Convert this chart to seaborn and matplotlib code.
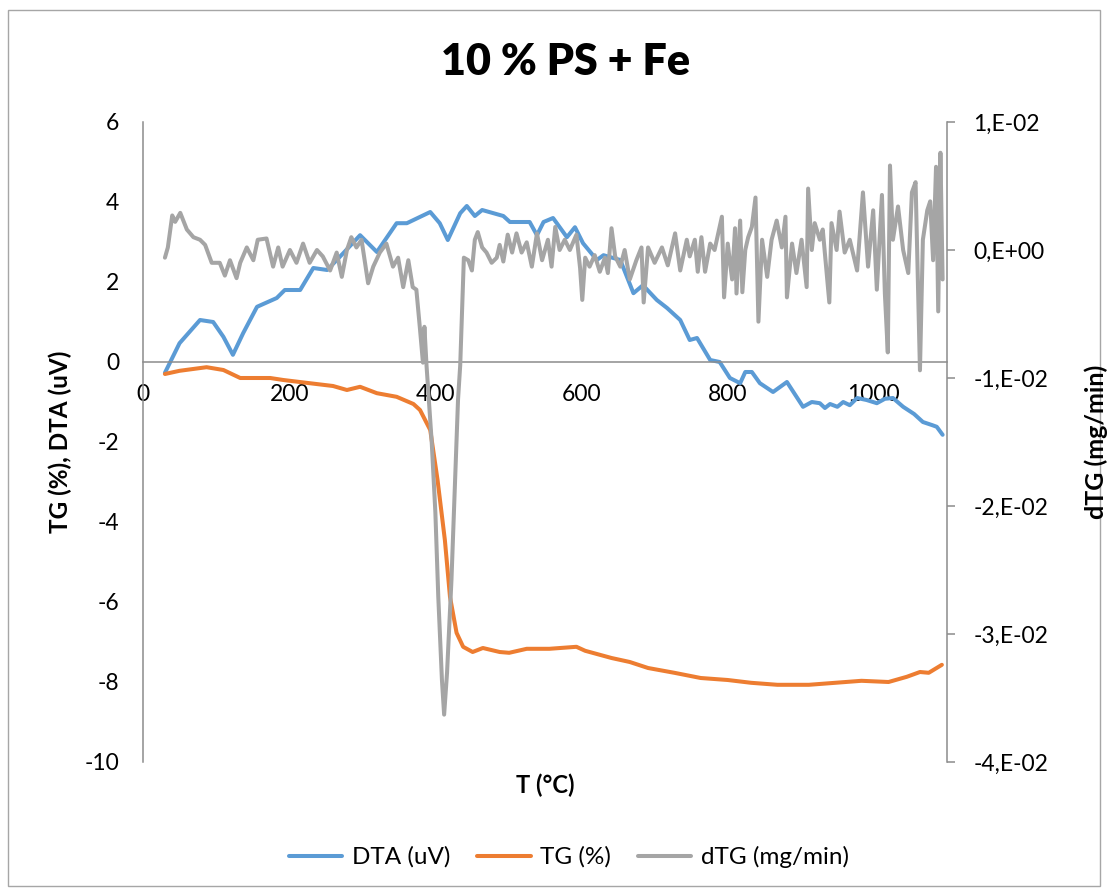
import matplotlib
matplotlib.use("Agg")
import matplotlib.pyplot as plt
import seaborn as sns
import pandas as pd
from matplotlib.lines import Line2D
from matplotlib.patches import Rectangle

# ---------------- data ----------------
title = "10 % PS + Fe"
x_label = "T (°C)"
left_label = "TG (%), DTA (uV)"
right_label = "dTG (mg/min)"
series_names = ["DTA (uV)", "TG (%)", "dTG (mg/min)"]

x_ticks = [0, 200, 400, 600, 800, 1000]
left_ticks = [-10, -8, -6, -4, -2, 0, 2, 4, 6]
right_ticks = [-0.04, -0.03, -0.02, -0.01, 0.0, 0.01]
right_tick_labels = ["-4,E-02", "-3,E-02", "-2,E-02", "-1,E-02", "0,E+00", "1,E-02"]

T_dta = [30, 50, 78, 96, 110, 123, 137, 156, 183, 194, 215, 233, 252, 274, 297, 320,
         347, 361, 393, 406, 417, 434, 443, 454, 464, 493, 502, 529, 539, 548, 561,
         580, 591, 602, 621, 630, 653, 671, 684, 703, 717, 735, 748, 758, 776, 789,
         803, 817, 824, 833, 844, 862, 881, 903, 915, 926, 933, 940, 950, 958, 967,
         977, 990, 1004, 1015, 1026, 1040, 1055, 1067, 1080, 1086, 1094]
DTA = [-0.27, 0.47, 1.05, 1.0, 0.63, 0.18, 0.72, 1.38, 1.6, 1.8, 1.8, 2.35, 2.3, 2.72,
       3.17, 2.75, 3.47, 3.47, 3.75, 3.47, 3.05, 3.72, 3.9, 3.65, 3.8, 3.65, 3.5, 3.5,
       3.17, 3.5, 3.6, 3.12, 3.37, 2.97, 2.55, 2.67, 2.55, 1.72, 1.92, 1.55, 1.35,
       1.05, 0.55, 0.6, 0.05, 0.0, -0.4, -0.53, -0.25, -0.25, -0.53, -0.75, -0.5,
       -1.12, -1.0, -1.03, -1.15, -1.05, -1.12, -1.0, -1.08, -0.9, -0.95, -1.03, -0.92,
       -0.9, -1.12, -1.3, -1.5, -1.58, -1.62, -1.82]

T_tg = [30, 50, 87, 110, 133, 174, 192, 228, 260, 279, 297, 320, 347, 370, 379, 393,
        403, 413, 420, 429, 438, 451, 465, 488, 501, 525, 556, 593, 605, 641, 666,
        691, 727, 763, 800, 832, 868, 911, 947, 983, 1020, 1045, 1063, 1075, 1093]
TG = [-0.3, -0.22, -0.13, -0.2, -0.4, -0.4, -0.45, -0.53, -0.6, -0.7, -0.62, -0.78,
      -0.87, -1.05, -1.2, -1.7, -2.95, -4.45, -5.87, -6.77, -7.12, -7.25, -7.15,
      -7.25, -7.27, -7.17, -7.17, -7.12, -7.22, -7.4, -7.5, -7.65, -7.77, -7.9,
      -7.95, -8.02, -8.07, -8.07, -8.02, -7.97, -8.0, -7.87, -7.75, -7.77, -7.57]

T_dtg = [30, 34, 40, 44, 51, 60, 69, 78, 85, 94, 105, 112, 119, 128, 133, 142, 151,
         157, 169, 178, 185, 191, 201, 210, 219, 228, 238, 246, 256, 265, 272, 279,
         285, 292, 299, 308, 315, 324, 333, 342, 349, 356, 363, 369, 374, 379, 383,
         385, 388, 392, 395, 400, 404, 409, 412, 416, 422, 427, 431, 434, 439, 445,
         450, 454, 458, 464, 470, 477, 484, 488, 493, 499, 505, 511, 518, 525, 532,
         539, 546, 554, 559, 564, 570, 577, 584, 593, 598, 601, 605, 611, 618, 625,
         632, 636, 641, 646, 653, 659, 666, 675, 682, 685, 691, 700, 710, 718, 728,
         735, 744, 748, 755, 759, 764, 769, 776, 782, 792, 795, 800, 806, 810, 812,
         817, 820, 824, 828, 833, 838, 842, 847, 854, 860, 867, 874, 879, 881, 888,
         894, 901, 908, 910, 915, 919, 926, 930, 939, 942, 949, 953, 960, 967, 977,
         985, 992, 999, 1004, 1011, 1015, 1019, 1022, 1026, 1033, 1040, 1047, 1052,
         1057, 1063, 1067, 1073, 1077, 1081, 1085, 1088, 1091, 1094]
DTG = [-0.0006, 0.0002, 0.0027, 0.0022, 0.0029, 0.0016, 0.0010, 0.0008, 0.0004,
       -0.0010, -0.0010, -0.0020, -0.0008, -0.0022, -0.0010, 0.0002, -0.0008, 0.0008,
       0.0009, -0.0013, 0.0002, -0.0013, 0.0000, -0.0010, 0.0005, -0.0010, 0.0000,
       -0.0005, -0.0016, -0.0002, -0.0021, 0.0000, 0.0010, 0.0002, 0.0008, -0.0026,
       -0.0013, -0.0002, 0.0005, -0.0013, -0.0006, -0.0029, -0.0008, -0.0029, -0.0031,
       -0.0062, -0.0088, -0.0060, -0.0091, -0.0125, -0.0150, -0.0205, -0.0271,
       -0.0336, -0.0363, -0.0330, -0.0258, -0.0180, -0.0117, -0.0090, -0.0006,
       -0.0008, -0.0016, 0.0008, 0.0014, 0.0002, -0.0002, -0.0010, -0.0006, 0.0004,
       -0.0009, 0.0012, -0.0002, 0.0013, -0.0002, 0.0006, -0.0013, 0.0013, -0.0008,
       0.0008, -0.0013, 0.0018, 0.0000, 0.0008, 0.0000, 0.0012, -0.0014, -0.0039,
       -0.0006, -0.0013, -0.0004, -0.0017, -0.0006, -0.0018, 0.0017, -0.0005,
       -0.0013, 0.0000, -0.0023, -0.0008, 0.0002, -0.0041, 0.0002, -0.0010, 0.0002,
       -0.0012, 0.0013, -0.0016, 0.0008, -0.0005, 0.0008, -0.0017, 0.0010, -0.0017,
       0.0005, 0.0000, 0.0026, -0.0037, 0.0005, -0.0023, 0.0017, -0.0034, 0.0023,
       -0.0033, 0.0000, 0.0010, 0.0018, 0.0041, -0.0056, 0.0008, -0.0021, 0.0008,
       0.0023, 0.0002, 0.0026, -0.0037, 0.0005, -0.0018, 0.0008, -0.0029, 0.0048,
       0.0000, 0.0021, 0.0008, 0.0016, -0.0041, 0.0021, 0.0000, 0.0030, -0.0002,
       0.0008, -0.0016, 0.0045, -0.0013, 0.0031, -0.0031, 0.0043, -0.0034, -0.0080,
       0.0066, 0.0008, 0.0034, 0.0000, -0.0018, 0.0045, 0.0053, -0.0094, 0.0008,
       0.0031, 0.0038, -0.0008, 0.0065, -0.0048, 0.0076, -0.0023]

colors = ["#5B9BD5", "#ED7D31", "#A5A5A5"]

# ---------------- figure ----------------
sns.set_theme(style="white")
plt.rcParams["font.family"] = ["Lato", "DejaVu Sans"]
plt.rcParams["text.color"] = "black"

W, H = 1107, 892
fig = plt.figure(figsize=(W / 100, H / 100), dpi=100)
fig.patch.set_facecolor("white")

L, R, T, B = 143, 947, 122, 762
ax = fig.add_axes([L / W, 1 - B / H, (R - L) / W, (B - T) / H])
ax2 = ax.twinx()

df_dta = pd.DataFrame({"T": T_dta, "v": DTA})
df_tg = pd.DataFrame({"T": T_tg, "v": TG})
df_dtg = pd.DataFrame({"T": T_dtg, "v": DTG})

lw = 2.9
sns.lineplot(data=df_dta, x="T", y="v", ax=ax, color=colors[0], linewidth=lw,
             sort=False, estimator=None)
sns.lineplot(data=df_tg, x="T", y="v", ax=ax, color=colors[1], linewidth=lw,
             sort=False, estimator=None)
sns.lineplot(data=df_dtg, x="T", y="v", ax=ax2, color=colors[2], linewidth=lw,
             sort=False, estimator=None)

ax.set_xlim(0, 1100)
ax.set_ylim(-10, 6)
ax2.set_ylim(-0.04, 0.01)

ax.set_xticks(x_ticks)
ax.set_xticklabels([str(v) for v in x_ticks])
ax.set_yticks(left_ticks)
ax.set_yticklabels([str(v) for v in left_ticks])
ax2.set_yticks(right_ticks)
ax2.set_yticklabels(right_tick_labels)

axis_col = "#8C8C8C"
for s in ["top", "right"]:
    ax.spines[s].set_visible(False)
ax.spines["bottom"].set_position(("data", 0))
ax.spines["bottom"].set_color(axis_col)
ax.spines["left"].set_color(axis_col)
for s in ["top", "left", "bottom"]:
    ax2.spines[s].set_visible(False)
ax2.spines["right"].set_color(axis_col)
for s in ["bottom", "left", "right"]:
    ax.spines[s].set_linewidth(1.1)
ax2.spines["right"].set_linewidth(1.1)

ax.tick_params(axis="x", length=0, pad=16, labelsize=16.5, colors="black")
ax.tick_params(axis="y", length=0, pad=17, labelsize=16.5, colors="black")
ax2.tick_params(axis="y", length=6, width=1.1, color=axis_col, pad=13,
                labelsize=16.5, labelcolor="black")
ax.grid(False)
ax2.grid(False)
ax.set_xlabel("")
ax.set_ylabel("")
ax2.set_ylabel("")
ax.patch.set_alpha(0)
ax2.patch.set_alpha(0)

# titles and axis labels
fig.text(566 / W, 1 - 62 / H, title, ha="center", va="center", fontsize=31,
         fontweight="heavy", color="black")
fig.text(545 / W, 1 - 785 / H, x_label, ha="center", va="center", fontsize=17,
         fontweight="bold", color="black")
fig.text(60 / W, 1 - 442 / H, left_label, ha="center", va="center", fontsize=17.5,
         fontweight="bold", rotation=90, color="black")
fig.text(1096 / W, 1 - 442 / H, right_label, ha="center", va="center", fontsize=18,
         fontweight="bold", rotation=90, color="black")

# legend
handles = [Line2D([0], [0], color=c, linewidth=lw) for c in colors]
fig.legend(handles, series_names, loc="center", bbox_to_anchor=(569 / W, 1 - 857 / H),
           ncol=3, frameon=False, fontsize=17.5, handlelength=2.2, handletextpad=0.4,
           columnspacing=1.1, labelcolor="black")

# outer border
fig.patches.append(Rectangle((8 / W, 1 - 886 / H), (1100 - 8) / W, (886 - 10) / H,
                             transform=fig.transFigure, fill=False,
                             edgecolor="#A6A6A6", linewidth=1.0))

fig.savefig("out.png", dpi=100)
